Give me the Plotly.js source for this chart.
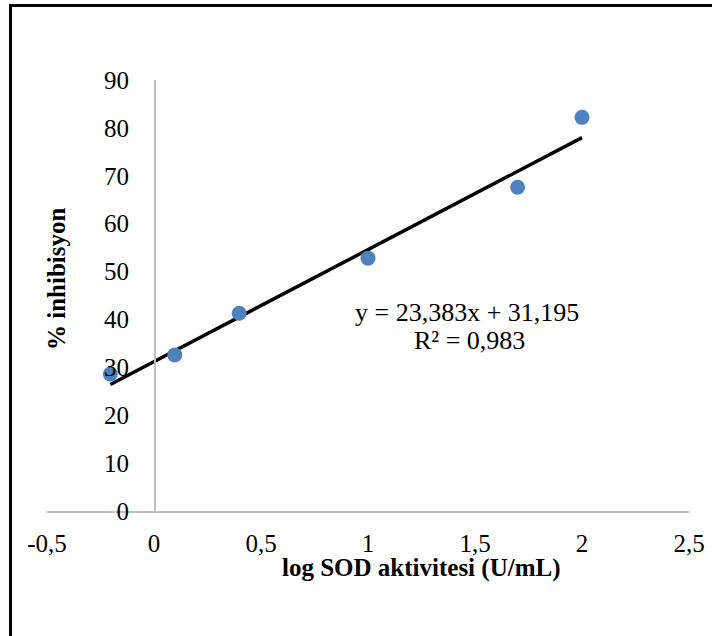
<!DOCTYPE html>
<html>
<head>
<meta charset="utf-8">
<script src="https://cdn.plot.ly/plotly-3.0.1.min.js"></script>
<style>
html,body{margin:0;padding:0;background:#fff;}
#chart{width:712px;height:636px;}
</style>
</head>
<body>
<div id="chart"></div>
<script>
// Data
const logSOD = [-0.204, 0.097, 0.398, 1.0, 1.699, 2.0];
const inhibition = [28.6, 32.6, 41.3, 52.8, 67.6, 82.2];
const trendSlope = 23.383;
const trendIntercept = 31.195;
const rSquared = '0,983';
const xTickVals = [-0.5, 0, 0.5, 1, 1.5, 2, 2.5];
const xTickText = ['-0,5', '0', '0,5', '1', '1,5', '2', '2,5'];
const yTickVals = [0, 10, 20, 30, 40, 50, 60, 70, 80, 90];
const yTickText = ['0', '10', '20', '30', '40', '50', '60', '70', '80', '90'];
const xTitle = 'log SOD aktivitesi (U/mL)';
const yTitle = '% inhibisyon';

const xmin = Math.min(...logSOD), xmax = Math.max(...logSOD);
const trendX = [xmin, xmax];
const trendY = trendX.map(v => trendSlope * v + trendIntercept);
const eqText = 'y = ' + trendSlope.toString().replace('.', ',') + 'x + ' + trendIntercept.toString().replace('.', ',');

const FONT = 'Liberation Serif, Times New Roman, serif';

const traces = [
  {
    x: trendX, y: trendY, type: 'scatter', mode: 'lines',
    line: {color: '#000000', width: 3.5}, hoverinfo: 'skip', showlegend: false
  },
  {
    x: logSOD, y: inhibition, type: 'scatter', mode: 'markers',
    marker: {color: '#4f81bd', size: 15, line: {width: 0}}, showlegend: false
  }
];

const layout = {
  width: 712, height: 636,
  margin: {l: 47, r: 23, t: 80, b: 125},
  paper_bgcolor: '#ffffff', plot_bgcolor: 'rgba(0,0,0,0)',
  font: {family: FONT, size: 24, color: '#000000'},
  showlegend: false,
  xaxis: {
    range: [-0.5, 2.5], domain: [0, 1],
    tickvals: xTickVals, ticktext: xTickText,
    showgrid: false, zeroline: false,
    showline: true, linecolor: '#bfbfbf', linewidth: 1.5,
    ticks: '', ticklabelstandoff: 9,
    tickfont: {family: FONT, size: 25, color: '#000'},
    anchor: 'y'
  },
  yaxis: {
    range: [0, 90],
    tickvals: yTickVals, ticktext: yTickText,
    showgrid: false, zeroline: false,
    showline: true, linecolor: '#bfbfbf', linewidth: 1.5,
    ticks: '', ticklabelstandoff: 20,
    tickfont: {family: FONT, size: 25, color: '#000'},
    anchor: 'free', position: 1/6
  },
  annotations: [
    {text: '<b>' + xTitle + '</b>', xref: 'paper', yref: 'paper',
     x: (421 - 47) / 642, y: -(568 - 511) / 431, xanchor: 'center', yanchor: 'middle',
     showarrow: false, font: {family: FONT, size: 25, color: '#000'}},
    {text: '<b>' + yTitle + '</b>', xref: 'paper', yref: 'paper',
     x: (56 - 47) / 642, y: (511 - 279) / 431, xanchor: 'center', yanchor: 'middle',
     textangle: -90, showarrow: false, font: {family: FONT, size: 25, color: '#000'}},
    {text: eqText, xref: 'paper', yref: 'paper',
     x: (467 - 47) / 642, y: (511 - 312) / 431, xanchor: 'center', yanchor: 'middle',
     showarrow: false, font: {family: FONT, size: 26, color: '#000'}},
    {text: 'R² = ' + rSquared, xref: 'paper', yref: 'paper',
     x: (469 - 47) / 642, y: (511 - 340) / 431, xanchor: 'center', yanchor: 'middle',
     showarrow: false, font: {family: FONT, size: 26, color: '#000'}}
  ],
  shapes: [
    {type: 'rect', xref: 'paper', yref: 'paper',
     x0: (10.5 - 47) / 642, x1: 1.2, y0: -0.6, y1: 1 + (80 - 5.5) / 431,
     line: {color: '#000000', width: 3}, fillcolor: 'rgba(0,0,0,0)', layer: 'below'}
  ]
};

Plotly.newPlot('chart', traces, layout, {displayModeBar: false, staticPlot: true});
</script>
</body>
</html>
